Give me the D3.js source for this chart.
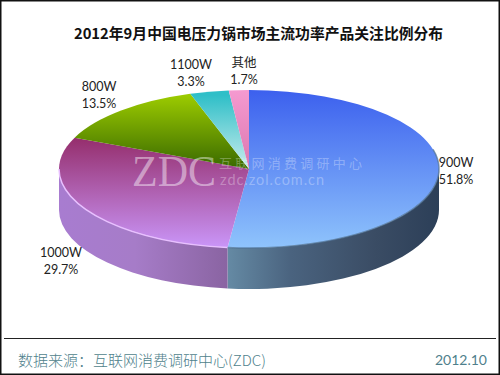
<!DOCTYPE html>
<html>
<head>
<meta charset="utf-8">
<script src="https://cdn.jsdelivr.net/npm/d3@7/dist/d3.min.js"></script>
<style>
  html, body { margin: 0; padding: 0; background: #fff; }
  svg { display: block; }
  text { font-family: "Noto Sans CJK SC", "Noto Sans", sans-serif; }
  .label { font-family: "Lato", "Noto Sans CJK SC", sans-serif; font-size: 12.5px; fill: #222; text-anchor: middle; }
</style>
</head>
<body>
<div id="chart"></div>
<script>
// Chart data
const categories = ["900W", "1000W", "800W", "1100W", "其他"];
const shares = [51.8, 29.7, 13.5, 3.3, 1.7];

const title = "2012年9月中国电压力锅市场主流功率产品关注比例分布";
const sourceText = "数据来源：互联网消费调研中心(ZDC)";
const dateText = "2012.10";

// Chart dimensions
const width = 500;
const height = 375;
const cx = 249;
const cy = 169;
const rx = 190;
const ry = 79;
const depth = 41;

// Top face gradients, one per slice [top colour, bottom colour, y1, y2]
const topFills = {
    "900W": ["#3c60ee", "#8fc4fc", 90, 248],
    "1000W": ["#96306f", "#c994f6", 140, 246],
    "800W": ["#9ccb00", "#3a6a00", 95, 168],
    "1100W": ["#2fbfc8", "#c8ecec", 95, 168],
    "其他": ["#f59ad0", "#dc78b0", 90, 168]
};

// Label anchor for each category
const labelPos = {
    "900W": [456, 167],
    "1000W": [61, 257],
    "800W": [99, 91],
    "1100W": [191, 69],
    "其他": [244, 67]
};

const svg = d3.select("#chart")
    .append("svg")
    .attr("width", width)
    .attr("height", height)
    .attr("viewBox", [0, 0, width, height]);

const defs = svg.append("defs");

const pie = d3.pie().sort(null).value(d => d.share);
const slices = pie(categories.map((c, i) => ({category: c, share: shares[i]})));

function addGradient(id, colors, x1, y1, x2, y2, stops) {
    const g = defs.append("linearGradient")
        .attr("id", id)
        .attr("gradientUnits", "userSpaceOnUse")
        .attr("x1", x1).attr("y1", y1)
        .attr("x2", x2).attr("y2", y2);
    colors.forEach((c, i) => {
        g.append("stop")
            .attr("offset", stops ? stops[i] : i / (colors.length - 1))
            .attr("stop-color", c);
    });
}

slices.forEach((s, i) => {
    const f = topFills[s.data.category];
    addGradient("top" + i, [f[0], f[1]], 0, f[2], 0, f[3]);
});

// Side wall gradients run left to right
const xAt = a => cx + rx * Math.sin(a);
const yAt = a => cy - ry * Math.cos(a);
const splitX = xAt(slices[0].endAngle);
addGradient("sideBlue", ["#658aa4", "#4a637f", "#3a4c64", "#2c3f58"], splitX, 0, cx + rx, 0, [0, 0.3, 0.7, 1]);
addGradient("sidePurple", ["#a87cd0", "#a67cc8", "#8a64a2"], cx - rx, 0, splitX, 0, [0, 0.45, 1]);

defs.append("filter").attr("id", "soft")
    .attr("x", "-5%").attr("y", "-5%").attr("width", "110%").attr("height", "110%")
    .append("feGaussianBlur").attr("stdDeviation", 0.7);

// Front wall between two angles, clipped to the visible half
function wallPath(a0, a1) {
    const start = Math.max(a0, Math.PI / 2);
    const end = Math.min(a1, Math.PI * 1.5);
    return `M${xAt(start)},${yAt(start)}`
        + `A${rx},${ry} 0 0 1 ${xAt(end)},${yAt(end)}`
        + `L${xAt(end)},${yAt(end) + depth}`
        + `A${rx},${ry} 0 0 0 ${xAt(start)},${yAt(start) + depth}Z`;
}

const wallFills = ["url(#sideBlue)", "url(#sidePurple)"];
svg.append("g").selectAll("path")
    .data(slices.slice(0, 2))
    .join("path")
    .attr("d", d => wallPath(d.startAngle, d.endAngle))
    .attr("fill", (d, i) => wallFills[i]);

// Top face, projected by hand so the gradients stay in screen space
function ellipseSlice(d) {
    const a0 = d.startAngle, a1 = d.endAngle;
    const large = a1 - a0 > Math.PI ? 1 : 0;
    return `M${cx},${cy}L${xAt(a0)},${yAt(a0)}A${rx},${ry} 0 ${large} 1 ${xAt(a1)},${yAt(a1)}Z`;
}

svg.append("g").selectAll("path")
    .data(slices)
    .join("path")
    .attr("d", ellipseSlice)
    .attr("fill", (d, i) => `url(#top${i})`);

// Rim highlights along the front edge of the top face
function rimPath(a0, a1) {
    return `M${xAt(a0)},${yAt(a0)}A${rx},${ry} 0 0 1 ${xAt(a1)},${yAt(a1)}`;
}
svg.append("path")
    .attr("d", rimPath(slices[1].startAngle, Math.PI * 1.5))
    .attr("fill", "none")
    .attr("stroke", "#e8c0ff")
    .attr("stroke-width", 1.5)
    .attr("filter", "url(#soft)");
svg.append("path")
    .attr("d", rimPath(Math.PI * 0.42, slices[0].endAngle))
    .attr("fill", "none")
    .attr("stroke", "#4f6f90")
    .attr("stroke-opacity", 0.7)
    .attr("stroke-width", 1.5)
    .attr("filter", "url(#soft)");

// Watermark
const mark = svg.append("g").attr("fill", "#fff");
mark.append("text")
    .attr("x", 132).attr("y", 186)
    .attr("fill-opacity", 0.45)
    .style("font-family", "'Liberation Serif', serif")
    .style("font-size", "44px")
    .attr("textLength", 84)
    .attr("lengthAdjust", "spacingAndGlyphs")
    .text("ZDC");
mark.append("text")
    .attr("x", 219).attr("y", 168)
    .attr("fill-opacity", 0.3)
    .style("font-size", "13px")
    .attr("textLength", 143)
    .text("互联网消费调研中心");
mark.append("text")
    .attr("x", 220).attr("y", 185)
    .attr("fill-opacity", 0.3)
    .style("font-family", "Lato, sans-serif")
    .style("font-size", "14.5px")
    .attr("textLength", 104)
    .text("zdc.zol.com.cn");

// Slice labels
const labels = svg.append("g").selectAll("text")
    .data(slices)
    .join("text")
    .attr("class", "label")
    .attr("x", d => labelPos[d.data.category][0])
    .attr("y", d => labelPos[d.data.category][1]);
labels.append("tspan").text(d => d.data.category);
labels.append("tspan")
    .attr("x", d => labelPos[d.data.category][0])
    .attr("dy", 17)
    .text(d => d.data.share.toFixed(1) + "%");

// Title
svg.append("text")
    .attr("x", 258.5).attr("y", 39)
    .attr("text-anchor", "middle")
    .style("font-size", "14.8px")
    .style("font-weight", 700)
    .attr("fill", "#111")
    .text(title);

// Footer
svg.append("line")
    .attr("x1", 4).attr("x2", 496)
    .attr("y1", 338.5).attr("y2", 338.5)
    .attr("stroke", "#222");
svg.append("text")
    .attr("x", 18).attr("y", 366)
    .style("font-size", "15px")
    .style("font-weight", 300)
    .attr("fill", "#4f7f8c")
    .text(sourceText);
svg.append("text")
    .attr("x", 487).attr("y", 365)
    .attr("text-anchor", "end")
    .style("font-family", "Lato, sans-serif")
    .style("font-size", "14px")
    .attr("fill", "#4f7f8c")
    .text(dateText);

// Frame
svg.append("rect")
    .attr("x", 0.75).attr("y", 0.75)
    .attr("width", width - 1.5).attr("height", height - 1.5)
    .attr("fill", "none")
    .attr("stroke", "#111")
    .attr("stroke-width", 1.5);
</script>
</body>
</html>
